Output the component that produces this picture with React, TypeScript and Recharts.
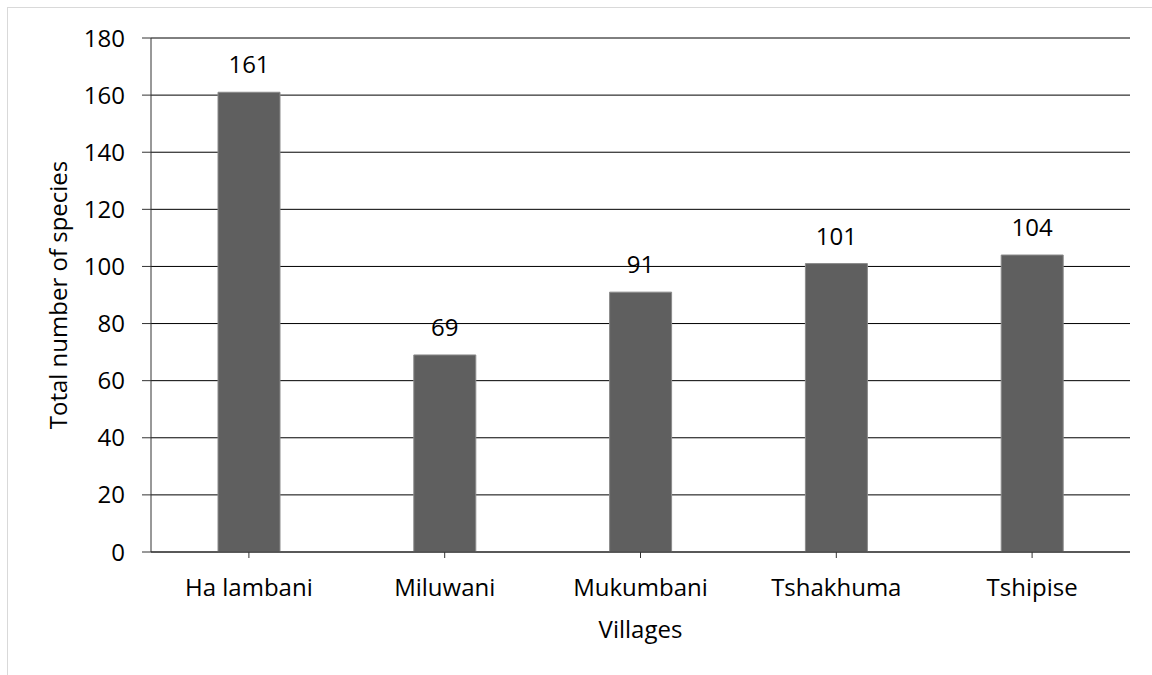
import { BarChart, Bar, XAxis, YAxis, CartesianGrid, LabelList, Label } from "recharts";

const villages = ["Ha lambani", "Miluwani", "Mukumbani", "Tshakhuma", "Tshipise"];
const speciesCounts = [161, 69, 91, 101, 104];
const yTicks = [0, 20, 40, 60, 80, 100, 120, 140, 160, 180];

const data = villages.map((name, i) => ({ name, species: speciesCounts[i] }));

const font = "'Open Sans', sans-serif";
const tickStyle = { fill: "#000", fontSize: 24, fontFamily: font };

const YTitle = (props: any) => {
  const vb = props.viewBox;
  const cx = vb.x + 67;
  const cy = vb.y + vb.height / 2;
  return (
    <text x={cx} y={cy} transform={`rotate(-90 ${cx} ${cy})`} textAnchor="middle" fill="#000" fontSize={24} fontFamily={font}>
      Total number of species
    </text>
  );
};

const XTitle = (props: any) => {
  const vb = props.viewBox;
  return (
    <text x={vb.x + vb.width / 2} y={vb.y + 86} textAnchor="middle" fill="#000" fontSize={24} fontFamily={font}>
      Villages
    </text>
  );
};

export default function App() {
  return (
    <div style={{ position: "absolute", left: 0, top: 0, width: 1152, height: 675, background: "#fff", overflow: "hidden" }}>
      <div style={{ position: "absolute", left: 7, top: 7, width: 1200, height: 700, borderTop: "1px solid #d9d9d9", borderLeft: "1px solid #d9d9d9" }} />
      <BarChart
        width={1152}
        height={675}
        data={data}
        margin={{ top: 38, right: 22, left: 0, bottom: 63 }}
        style={{ position: "absolute", left: 0, top: 0 }}
      >
        <CartesianGrid vertical={false} stroke="#000" />
        <XAxis
          dataKey="name"
          interval={0}
          height={60}
          tickSize={6}
          tickMargin={21}
          tick={tickStyle}
          axisLine={{ stroke: "#333" }}
          tickLine={{ stroke: "#333" }}
        >
          <Label content={XTitle} />
        </XAxis>
        <YAxis
          width={151}
          domain={[0, 180]}
          ticks={yTicks}
          interval={0}
          tickSize={9}
          tickMargin={17}
          tick={tickStyle}
          axisLine={{ stroke: "#333" }}
          tickLine={{ stroke: "#333" }}
        >
          <Label content={YTitle} />
        </YAxis>
        <Bar dataKey="species" fill="#5f5f5f" stroke="#8a8a8a" strokeWidth={1} barSize={62} isAnimationActive={false}>
          <LabelList dataKey="species" position="top" offset={19} fill="#000" fontSize={24} fontFamily={font} />
        </Bar>
      </BarChart>
    </div>
  );
}
